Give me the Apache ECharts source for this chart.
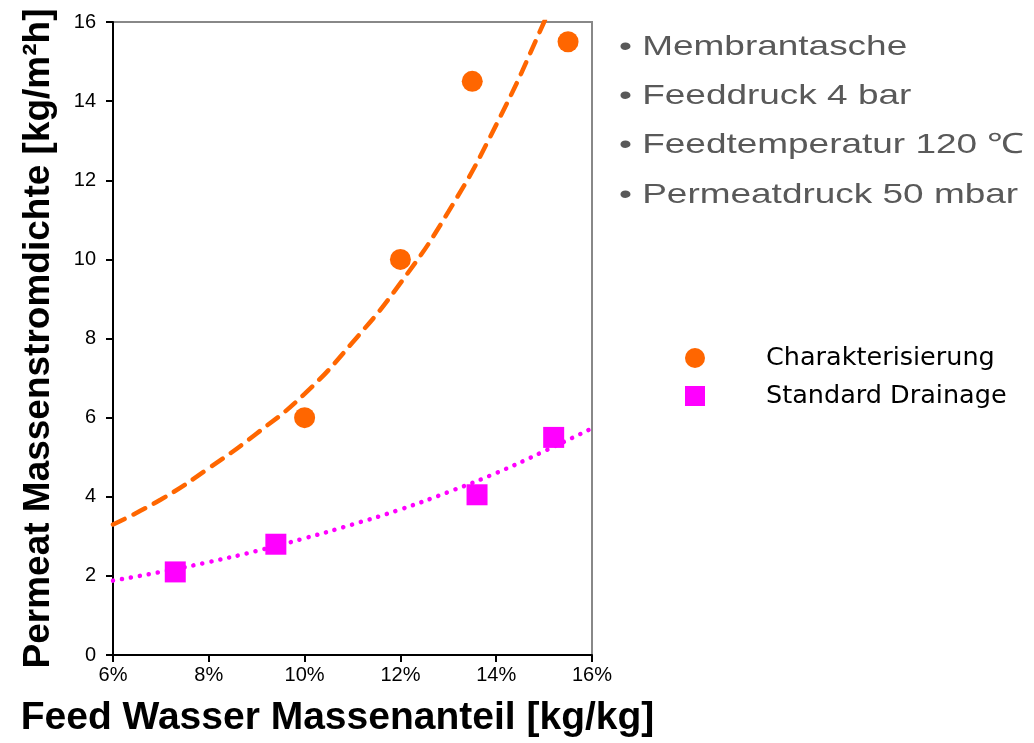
<!DOCTYPE html>
<html><head><meta charset="utf-8">
<script src="https://cdn.jsdelivr.net/npm/echarts@6/dist/echarts.min.js"></script>
<style>html,body{margin:0;padding:0;background:#fff}#c{width:1034px;height:743px}</style>
</head><body><div id="c"></div>
<script>
// Data (x in % feed water mass fraction, y in kg/m²h)
const charakterisierung = [[10, 6.0], [12, 10.0], [13.5, 14.5], [15.5, 15.5]];
const standardDrainage = [[7.3, 2.1], [9.4, 2.8], [13.6, 4.05], [15.2, 5.5]];
// trend curves
const trendCharakterisierung = [[6, 3.3], [7, 3.93], [8, 4.72], [9, 5.6], [10, 6.6], [11, 7.9], [12, 9.4], [13, 11.2], [14, 13.4], [15, 16.0], [15.3, 16.9]];
const trendStandard = [[6, 1.88], [7, 2.1], [8, 2.35], [9, 2.63], [10, 2.95], [11, 3.3], [12, 3.68], [13, 4.12], [14, 4.6], [15, 5.15], [16, 5.73]];
const notes = ['• Membrantasche', '• Feeddruck 4 bar', '• Feedtemperatur 120 ℃', '• Permeatdruck 50 mbar'];
const xTitle = 'Feed Wasser Massenanteil [kg/kg]';
const yTitle = 'Permeat Massenstromdichte [kg/m²h]';

const chart = echarts.init(document.getElementById('c'));
const F = 'Liberation Sans, Arial, sans-serif';
chart.setOption({
  animation: false,
  backgroundColor: '#fff',
  graphic: notes.map((t, i) => ({
    type: 'text', x: 619, y: 47 + i * 49.3, scaleX: 1.32, scaleY: 1,
    style: { text: t, fontFamily: F, fontSize: 28, fill: '#595959', textVerticalAlign: 'middle', verticalAlign: 'middle' }
  })),
  legend: {
    orient: 'vertical', left: 680, top: 340, itemGap: 12, itemWidth: 20, itemHeight: 20,
    data: [{ name: 'Charakterisierung', icon: 'circle' }, { name: 'Standard Drainage', icon: 'rect' }],
    textStyle: { fontFamily: 'DejaVu Sans, sans-serif', fontSize: 25.5, color: '#000', padding: [0, 0, 0, 56] }
  },
  grid: { left: 113, right: 442, top: 22, bottom: 87, show: true, borderColor: '#888', borderWidth: 2 },
  xAxis: {
    type: 'value', min: 6, max: 16, interval: 2,
    name: xTitle, nameLocation: 'middle', nameGap: 44,
    nameTextStyle: { fontFamily: F, fontSize: 39, fontWeight: 'bold', color: '#000', padding: [0, 30, 0, 0] },
    axisLine: { lineStyle: { color: '#000', width: 2 } },
    axisTick: { show: true, length: 7, lineStyle: { color: '#000', width: 2 } },
    axisLabel: { fontFamily: F, fontSize: 20, color: '#000', margin: 10, formatter: v => v + '%' },
    splitLine: { show: false }
  },
  yAxis: {
    type: 'value', min: 0, max: 16, interval: 2,
    name: yTitle, nameLocation: 'middle', nameGap: 56, nameRotate: 90,
    nameTextStyle: { fontFamily: F, fontSize: 37, fontWeight: 'bold', color: '#000' },
    axisLine: { lineStyle: { color: '#000', width: 2 } },
    axisTick: { show: true, length: 7, lineStyle: { color: '#000', width: 2 } },
    axisLabel: { fontFamily: F, fontSize: 20, color: '#000', margin: 17 },
    splitLine: { show: false }
  },
  series: [
    { name: 'trendC', type: 'line', data: trendCharakterisierung, smooth: true, showSymbol: false, clip: true,
      lineStyle: { color: '#ff6600', width: 4.5, type: [13, 10], cap: 'round' }, z: 2 },
    { name: 'trendS', type: 'line', data: trendStandard, smooth: true, showSymbol: false, clip: true,
      lineStyle: { color: '#ff00ff', width: 4.5, type: [0.1, 9], cap: 'round' }, z: 2 },
    { name: 'Charakterisierung', type: 'scatter', data: charakterisierung, symbol: 'circle', symbolSize: 21,
      itemStyle: { color: '#ff6600', opacity: 1 }, z: 3 },
    { name: 'Standard Drainage', type: 'scatter', data: standardDrainage, symbol: 'rect', symbolSize: 21,
      itemStyle: { color: '#ff00ff', opacity: 1 }, z: 3 }
  ]
});
</script></body></html>
